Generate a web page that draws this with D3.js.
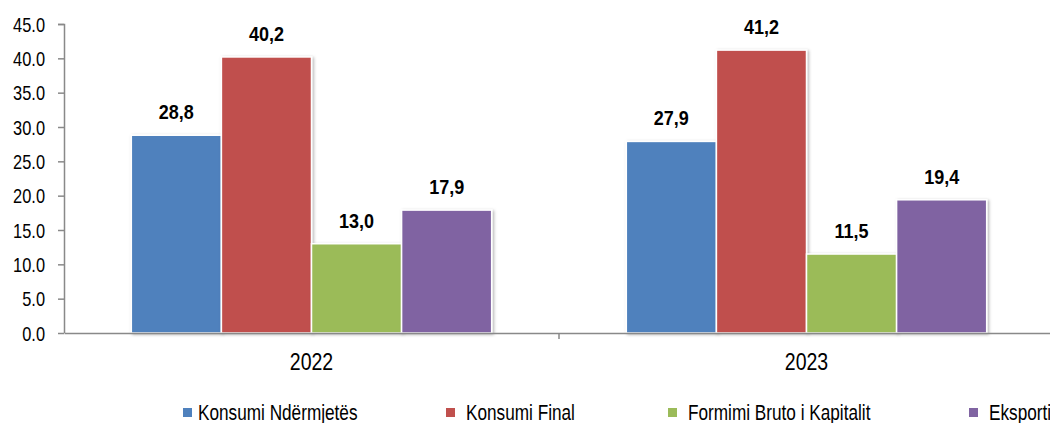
<!DOCTYPE html>
<html>
<head>
<meta charset="utf-8">
<script src="https://cdn.jsdelivr.net/npm/d3@7"></script>
<style>
  body { margin: 0; background: #fff; overflow: hidden; }
  text { font-family: "Liberation Sans", Arial, sans-serif; }
</style>
</head>
<body>
<div id="chart"></div>
<script>
// data
var years = ["2022", "2023"];
var seriesNames = ["Konsumi Ndërmjetës", "Konsumi Final", "Formimi Bruto i Kapitalit", "Eksporti"];
var seriesColors = ["#4F81BD", "#C0504D", "#9BBB59", "#8064A2"];
var values2022 = [28.8, 40.2, 13.0, 17.9];
var values2023 = [27.9, 41.2, 11.5, 19.4];
var yTicks = [0, 5, 10, 15, 20, 25, 30, 35, 40, 45];

var allValues = [values2022, values2023];

// svg params
var svgWidth = 1050;
var svgHeight = 423;
var margin = { top: 24, right: -4, bottom: 90, left: 64 };
var chartWidth = svgWidth - margin.left - margin.right;
var chartHeight = svgHeight - margin.top - margin.bottom;

// the original font is a narrow face, squeeze the text horizontally
function narrow(sel, sx) {
    sel.each(function() {
        var t = d3.select(this);
        var x = +t.attr("x") || 0;
        var y = +t.attr("y") || 0;
        t.attr("x", 0).attr("y", 0)
            .attr("transform", `translate(${x}, ${y}) scale(${sx}, 1)`);
    });
}

var svg = d3.select("#chart")
    .append("svg")
    .attr("width", svgWidth)
    .attr("height", svgHeight);

// soft shadow behind the bars
var defs = svg.append("defs");
defs.append("filter")
    .attr("id", "shadow")
    .attr("x", "-20%").attr("y", "-20%")
    .attr("width", "140%").attr("height", "140%")
    .append("feDropShadow")
    .attr("dx", 1.5).attr("dy", 1)
    .attr("stdDeviation", 1.5)
    .attr("flood-color", "#000")
    .attr("flood-opacity", 0.3);

var chartGroup = svg.append("g")
    .attr("transform", `translate(${margin.left}, ${margin.top})`);

// scales
var x0 = d3.scaleBand()
    .domain(years)
    .range([0, chartWidth]);

var groupPad = x0.bandwidth() * 0.136;
var x1 = d3.scaleBand()
    .domain(seriesNames)
    .range([groupPad, x0.bandwidth() - groupPad]);

var yScale = d3.scaleLinear()
    .domain([0, 45])
    .range([chartHeight, 0]);

// bars
var groups = chartGroup.selectAll(".year")
    .data(years)
    .enter()
    .append("g")
    .attr("class", "year")
    .attr("transform", d => `translate(${x0(d)}, 0)`);

groups.selectAll("rect")
    .data((d, i) => allValues[i].map((v, j) => ({ name: seriesNames[j], value: v, color: seriesColors[j] })))
    .enter()
    .append("rect")
    .attr("x", d => x1(d.name))
    .attr("y", d => yScale(d.value))
    .attr("width", x1.bandwidth())
    .attr("height", d => chartHeight - yScale(d.value))
    .attr("fill", d => d.color)
    .attr("stroke", "#fff")
    .attr("stroke-width", 1.5)
    .attr("filter", "url(#shadow)");

// value labels
groups.selectAll(".val")
    .data((d, i) => allValues[i].map((v, j) => ({ name: seriesNames[j], value: v })))
    .enter()
    .append("text")
    .attr("class", "val")
    .attr("x", d => x1(d.name) + x1.bandwidth() / 2)
    .attr("y", d => yScale(d.value) - 16)
    .attr("text-anchor", "middle")
    .attr("font-size", "20px")
    .attr("font-weight", "bold")
    .attr("fill", "#000")
    .text(d => d.value.toFixed(1).replace(".", ","))
    .call(narrow, 0.9);

// axes
var leftAxis = d3.axisLeft(yScale)
    .tickValues(yTicks)
    .tickSize(6)
    .tickPadding(13)
    .tickFormat(d3.format(".1f"));

var yAxisG = chartGroup.append("g").call(leftAxis);
yAxisG.selectAll("text")
    .attr("font-size", "20px")
    .attr("fill", "#000")
    .attr("x", -19)
    .attr("y", 0)
    .attr("dy", "0.35em")
    .call(narrow, 0.82);
yAxisG.selectAll("line, path").attr("stroke", "#898989").attr("stroke-width", 1.5);
yAxisG.select(".domain").attr("d", `M-6,0.5H0.5V${chartHeight}`);

var bottomAxis = d3.axisBottom(x0)
    .tickSize(0)
    .tickPadding(20);

var xAxisG = chartGroup.append("g")
    .attr("transform", `translate(0, ${chartHeight})`)
    .call(bottomAxis);
xAxisG.select(".domain").attr("stroke", "#898989").attr("stroke-width", 1.5);
xAxisG.selectAll("text")
    .attr("font-size", "23.5px")
    .attr("fill", "#000")
    .attr("y", 37)
    .attr("dy", 0)
    .call(narrow, 0.83);

// tick marks between categories
chartGroup.append("g")
    .selectAll("line")
    .data(years.slice(1))
    .enter()
    .append("line")
    .attr("x1", d => x0(d))
    .attr("x2", d => x0(d))
    .attr("y1", chartHeight)
    .attr("y2", chartHeight + 6)
    .attr("stroke", "#898989")
    .attr("stroke-width", 1.5);

// legend
var legendX = [183, 446, 668, 969];
var legend = svg.append("g")
    .selectAll("g")
    .data(seriesNames)
    .enter()
    .append("g")
    .attr("transform", (d, i) => `translate(${legendX[i]}, 420)`);

legend.append("rect")
    .attr("x", 0)
    .attr("y", -12)
    .attr("width", 9)
    .attr("height", 9)
    .attr("fill", (d, i) => seriesColors[i]);

legend.append("text")
    .attr("x", (d, i) => i === 0 ? 15 : 20)
    .attr("y", 0)
    .attr("font-size", "21.5px")
    .attr("fill", "#000")
    .text(d => d)
    .call(narrow, 0.8);
</script>
</body>
</html>
